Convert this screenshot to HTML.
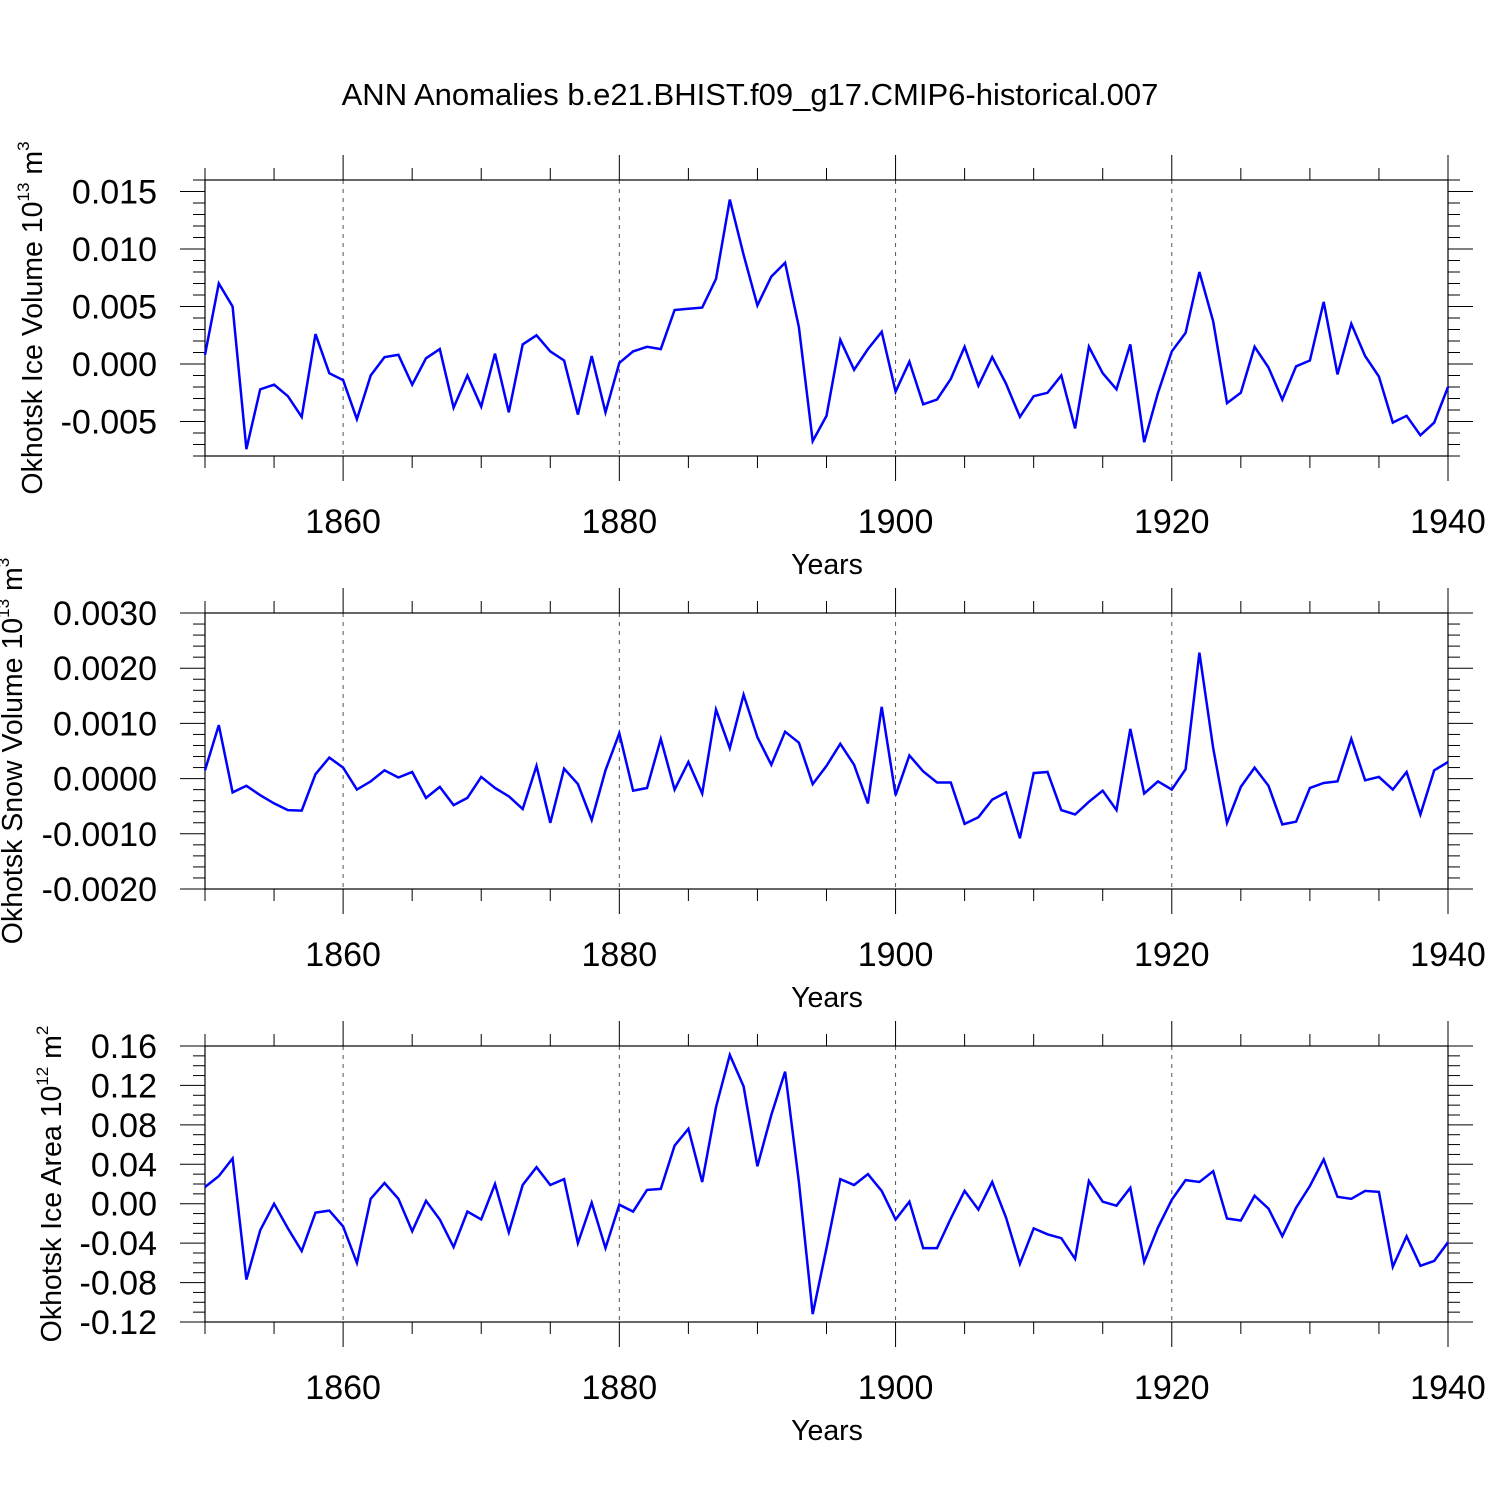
<!DOCTYPE html>
<html><head><meta charset="utf-8"><style>
html,body{margin:0;padding:0;background:#fff;}
svg{display:block;font-family:"Liberation Sans",sans-serif;}
</style></head><body>
<svg id="chart" width="1500" height="1500" viewBox="0 0 1500 1500" xmlns="http://www.w3.org/2000/svg">
<rect width="1500" height="1500" fill="#fff"/>
<text x="750" y="105" font-size="31" text-anchor="middle">ANN Anomalies b.e21.BHIST.f09_g17.CMIP6-historical.007</text>
</svg>
<script>
const years = [];
for (let y = 1850; y <= 1940; y++) years.push(y);
const iceVolume = [0.0008,0.0070,0.0050,-0.0074,-0.0022,-0.0018,-0.0028,-0.0046,0.0026,-0.0008,
-0.0014,-0.0048,-0.0010,0.0006,0.0008,-0.0018,0.0005,0.0013,-0.0038,-0.0010,
-0.0037,0.0009,-0.0042,0.0017,0.0025,0.0011,0.0003,-0.0044,0.0007,-0.0042,
0.0001,0.0011,0.0015,0.0013,0.0047,0.0048,0.0049,0.0074,0.0143,0.0095,
0.0051,0.0076,0.0088,0.0032,-0.0067,-0.0045,0.0021,-0.0005,0.0013,0.0028,
-0.0024,0.0002,-0.0035,-0.0031,-0.0013,0.0015,-0.0019,0.0006,-0.0017,-0.0046,
-0.0028,-0.0025,-0.0010,-0.0056,0.0015,-0.0008,-0.0022,0.0017,-0.0068,-0.0025,
0.0011,0.0027,0.0080,0.0037,-0.0034,-0.0025,0.0015,-0.0003,-0.0031,-0.0002,
0.0003,0.0054,-0.0009,0.0035,0.0007,-0.0011,-0.0051,-0.0045,-0.0062,-0.0051,-0.0020];
const snowVolume = [0.15,0.97,-0.25,-0.13,-0.30,-0.45,-0.57,-0.58,0.08,0.38,
0.20,-0.20,-0.05,0.15,0.02,0.12,-0.35,-0.15,-0.48,-0.35,
0.03,-0.17,-0.32,-0.55,0.23,-0.80,0.18,-0.10,-0.75,0.15,
0.82,-0.22,-0.17,0.72,-0.20,0.30,-0.27,1.25,0.55,1.52,
0.75,0.25,0.85,0.65,-0.10,0.23,0.63,0.25,-0.45,1.30,
-0.30,0.42,0.13,-0.07,-0.07,-0.82,-0.70,-0.38,-0.25,-1.08,
0.10,0.12,-0.57,-0.65,-0.42,-0.22,-0.57,0.90,-0.27,-0.05,
-0.20,0.17,2.28,0.55,-0.80,-0.15,0.20,-0.13,-0.83,-0.78,
-0.17,-0.08,-0.05,0.72,-0.03,0.03,-0.20,0.12,-0.65,0.15,0.30].map(v=>v/1000);
const iceArea = [0.017,0.028,0.046,-0.077,-0.027,0.000,-0.025,-0.048,-0.009,-0.007,
-0.023,-0.060,0.005,0.021,0.005,-0.028,0.003,-0.016,-0.044,-0.008,
-0.016,0.020,-0.029,0.019,0.037,0.019,0.025,-0.040,0.001,-0.045,
-0.001,-0.008,0.014,0.015,0.059,0.076,0.022,0.098,0.151,0.119,
0.038,0.090,0.134,0.022,-0.112,-0.045,0.025,0.019,0.030,0.013,
-0.016,0.002,-0.045,-0.045,-0.015,0.013,-0.006,0.022,-0.014,-0.061,
-0.025,-0.031,-0.035,-0.056,0.023,0.002,-0.002,0.016,-0.059,-0.024,
0.004,0.024,0.022,0.033,-0.015,-0.017,0.008,-0.005,-0.033,-0.004,
0.018,0.045,0.007,0.005,0.013,0.012,-0.064,-0.033,-0.063,-0.058,-0.039];
const xTickLabels = ["1860","1880","1900","1920","1940"];
const volTicks = ["0.015","0.010","0.005","0.000","-0.005"];
const snowTicks = ["0.0030","0.0020","0.0010","0.0000","-0.0010","-0.0020"];
const areaTicks = ["0.16","0.12","0.08","0.04","0.00","-0.04","-0.08","-0.12"];

const NS="http://www.w3.org/2000/svg";
const svg=document.getElementById('chart');
function mk(tag,attrs,parent){const e=document.createElementNS(NS,tag);for(const k in attrs)e.setAttribute(k,attrs[k]);(parent||svg).appendChild(e);return e;}
const X0=205,X1=1448;
function xs(yr){return X0+(yr-1850)/90*(X1-X0);}

function panel(cfg){
  const g=mk('g',{});
  
  
  const T=cfg.top,B=cfg.top+276;
  const ys=v=>T+(cfg.ymax-v)/(cfg.ymax-cfg.ymin)*(B-T);
  for(let yr=1860;yr<=1920;yr+=20){
    const l=mk('line',{x1:xs(yr),x2:xs(yr),y1:T,y2:B,stroke:'#555','stroke-width':1,'stroke-dasharray':'4,5'},g);
    
    
  }
  for(let yr=1850;yr<=1940;yr+=5){
    const len=(yr%20===0)?25:12;
    mk('line',{x1:xs(yr),x2:xs(yr),y1:T-len,y2:T,stroke:'#000','stroke-width':1},g);
    mk('line',{x1:xs(yr),x2:xs(yr),y1:B,y2:B+len,stroke:'#000','stroke-width':1},g);
  }
  xTickLabels.forEach(s=>{
    const t=mk('text',{x:xs(+s),y:B+77,'font-size':34,'text-anchor':'middle'},g);
    t.textContent=s;
    
    
  });
  const xt=mk('text',{x:827,y:B+118,'font-size':28.5,'text-anchor':'middle'},g);
  xt.textContent='Years';
  
  
  const nMin=Math.round((cfg.ymax-cfg.ymin)/cfg.minor);
  for(let i=0;i<=nMin;i++){
    const v=cfg.ymin+i*cfg.minor;
    const isMaj=cfg.ticks.some(s=>Math.abs(parseFloat(s)-v)<cfg.minor*0.01);
    const len=isMaj?25:12;
    const y=ys(v);
    mk('line',{x1:X0-len,x2:X0,y1:y,y2:y,stroke:'#000','stroke-width':1},g);
    mk('line',{x1:X1,x2:X1+len,y1:y,y2:y,stroke:'#000','stroke-width':1},g);
  }
  cfg.ticks.forEach(s=>{
    const t=mk('text',{x:157,y:ys(parseFloat(s))+12,'font-size':34,'text-anchor':'end'},g);
    t.textContent=s;
    
    
  });
  const r=mk('rect',{x:X0,y:T,width:X1-X0,height:B-T,fill:'none',stroke:'#000','stroke-width':1.2},g);
  
  
  const pts=cfg.data.map((v,i)=>xs(years[i]).toFixed(1)+','+ys(v).toFixed(1)).join(' ');
  const pl=mk('polyline',{points:pts,fill:'none',stroke:'#0000ff','stroke-width':2.5,'stroke-linejoin':'miter'},g);
  
  
  const yt=mk('text',{transform:`translate(${cfg.tx},${T+138}) rotate(-90)`,'font-size':28.5,'text-anchor':'middle'},g);
  
  
  yt.innerHTML=cfg.title;
}
panel({name:'ice-volume-panel',top:180,ymin:-0.008,ymax:0.016,minor:0.001,ticks:volTicks,data:iceVolume,tx:42,
 title:'Okhotsk Ice Volume 10<tspan font-size="17" dy="-13">13</tspan><tspan dy="13"> m</tspan><tspan font-size="17" dy="-13">3</tspan>'});
panel({name:'snow-volume-panel',top:613,ymin:-0.002,ymax:0.003,minor:0.0002,ticks:snowTicks,data:snowVolume,tx:22,
 title:'Okhotsk Snow Volume 10<tspan font-size="17" dy="-13">13</tspan><tspan dy="13"> m</tspan><tspan font-size="17" dy="-13">3</tspan>'});
panel({name:'ice-area-panel',top:1046,ymin:-0.12,ymax:0.16,minor:0.01,ticks:areaTicks,data:iceArea,tx:61,
 title:'Okhotsk Ice Area 10<tspan font-size="17" dy="-13">12</tspan><tspan dy="13"> m</tspan><tspan font-size="17" dy="-13">2</tspan>'});
</script>
</body></html>
